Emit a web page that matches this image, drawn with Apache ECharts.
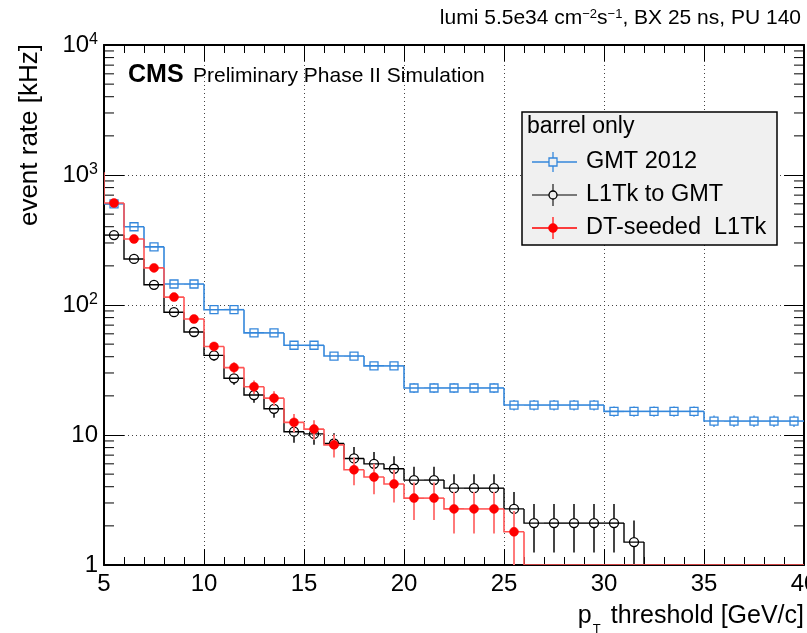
<!DOCTYPE html>
<html><head><meta charset="utf-8">
<script src="https://cdn.jsdelivr.net/npm/echarts@6/dist/echarts.min.js"></script>
<style>html,body{margin:0;padding:0;background:#fff;overflow:hidden;width:807px;height:633px}#c{width:807px;height:633px}</style>
</head><body><div id="c"></div>
<script>
// ---- data ----
const binEdges = [5,6,7,8,9,10,11,12,13,14,15,16,17,18,19,20,21,22,23,24,25,26,27,28,29,30,31,32,33,34,35,36,37,38,39,40];
const gmt2012    = [600,400,280,145,145,92,92,61,61,49,49,40.5,40.5,34,34,23,23,23,23,23,17,17,17,17,17,15.2,15.2,15.2,15.2,15.2,12.8,12.8,12.8,12.8,12.8];
const gmt2012Err = [9.5,7.7,6.5,4.7,4.7,3.7,3.7,3.0,3.0,2.7,2.7,2.5,2.5,2.3,2.3,2.0,2.0,2.0,2.0,2.0,1.6,1.6,1.6,1.6,1.6,1.4,1.4,1.4,1.4,1.4,1.3,1.3,1.3,1.3,1.3];
const l1tkGmt    = [345,226,143,88,62,41,27.3,20.3,15.9,10.6,10.2,8.6,6.6,6.0,5.5,4.5,4.5,3.9,3.9,3.9,2.7,2.1,2.1,2.1,2.1,2.1,1.5,0,0,0,0,0,0,0,0];
const l1tkGmtErr = [10.7,8.6,6.9,5.4,4.5,3.7,3.0,2.6,2.3,1.9,1.8,1.7,1.5,1.4,1.35,1.2,1.2,1.1,1.1,1.1,0.95,0.85,0.85,0.85,0.85,0.85,0.7,0,0,0,0,0,0,0,0];
const dtSeeded   = [609,322,193,115,78,48,33,23.5,19.2,12.5,11.1,8.4,5.4,4.75,4.2,3.27,3.27,2.7,2.7,2.7,1.8,0,0,0,0,0,0,0,0,0,0,0,0,0,0];
const dtSeededErr= [14,10.3,8.0,6.2,5.1,4.0,3.3,2.8,2.5,2.0,1.9,1.7,1.3,1.25,1.18,1.05,1.05,0.95,0.95,0.95,0.8,0,0,0,0,0,0,0,0,0,0,0,0,0,0];
const dtSeededUnderflow = 1050;   // content of the bin just below 5 GeV/c
const xTickValues = [5,10,15,20,25,30,35,40];
const yTickValues = [1,10,100,1000,10000];
const yMinorTicks = [2,3,4,5,6,7,8,9,20,30,40,50,60,70,80,90,200,300,400,500,600,700,800,900,2000,3000,4000,5000,6000,7000,8000,9000];
const legendTitle = 'barrel only';
const seriesNames = ['GMT 2012','L1Tk to GMT','DT-seeded  L1Tk'];

const FONT = '"Liberation Sans", Arial, Helvetica, sans-serif';
const BLUE = '#3487db', BLACK = '#000000', RED = '#ff0000';

function stepData(vals, under){
  return vals.map((v,i)=>[binEdges[i], binEdges[i+1], v, i>0 ? vals[i-1] : (under==null ? -1 : under)]);
}
function markData(vals, errs){
  return vals.map((v,i)=>[binEdges[i], binEdges[i+1], v, errs[i]]);
}
function stepRender(color, width){
  return function(params, api){
    const lo=api.value(0), hi=api.value(1), v=api.value(2), prev=api.value(3);
    const yv = v>1 ? v : 1;
    const pts=[];
    if (prev >= 0) pts.push(api.coord([lo, prev>1?prev:1]));
    pts.push(api.coord([lo,yv]), api.coord([hi,yv]));
    return {type:'polyline', shape:{points:pts}, style:{stroke:color, lineWidth:width, fill:null}};
  };
}
function markRender(kind, color, errColor, errWidth){
  return function(params, api){
    const lo=api.value(0), hi=api.value(1), v=api.value(2), e=api.value(3);
    if (!(v>0)) return null;
    const cs = params.coordSys;
    const c=(lo+hi)/2;
    const p=api.coord([c,v]);
    const t=api.coord([c,v+e]);
    const b=api.coord([c, Math.max(v-e, 0.5)]);
    const by = Math.min(b[1], cs.y+cs.height);
    const children=[];
    const r = kind==='square' ? 4 : 4.5;
    if (kind==='dot'){
      children.push({type:'line', shape:{x1:p[0],y1:t[1],x2:p[0],y2:by}, style:{stroke:errColor,lineWidth:errWidth}});
      children.push({type:'circle', shape:{cx:p[0],cy:p[1],r:r}, style:{fill:color, stroke:color, lineWidth:0.5}});
    } else {
      if (t[1] < p[1]-r) children.push({type:'line', shape:{x1:p[0],y1:t[1],x2:p[0],y2:p[1]-r}, style:{stroke:errColor,lineWidth:errWidth}});
      if (by > p[1]+r) children.push({type:'line', shape:{x1:p[0],y1:p[1]+r,x2:p[0],y2:by}, style:{stroke:errColor,lineWidth:errWidth}});
      if (kind==='square') children.push({type:'rect', shape:{x:p[0]-r,y:p[1]-r,width:2*r,height:2*r}, style:{fill:'rgba(255,255,255,0)', stroke:color, lineWidth:1.3}});
      else children.push({type:'circle', shape:{cx:p[0],cy:p[1],r:r}, style:{fill:'rgba(255,255,255,0)', stroke:color, lineWidth:1.3}});
    }
    return {type:'group', children:children};
  };
}
function minorRender(params, api){
  const cs=params.coordSys;
  const p=api.coord([5, api.value(1)]);
  return {type:'group', children:[
    {type:'line', shape:{x1:cs.x, y1:p[1], x2:cs.x+10, y2:p[1]}, style:{stroke:'#000', lineWidth:1}},
    {type:'line', shape:{x1:cs.x+cs.width, y1:p[1], x2:cs.x+cs.width-10, y2:p[1]}, style:{stroke:'#000', lineWidth:1}}
  ]};
}

// x-axis title layout (p_T subscript placed before the main text)
const mctx = document.createElement('canvas').getContext('2d');
mctx.font = '25px "Liberation Sans"';
const titleRight = 804;
const titleLeft = titleRight - mctx.measureText('threshold [GeV/c]').width;

const axisCommon = {
  axisLine:{show:true, onZero:false, lineStyle:{color:'#000', width:2}},
  splitLine:{show:false}
};

const chart = echarts.init(document.getElementById('c'), null, {renderer:'canvas', width:807, height:633});
chart.setOption({
  animation:false,
  backgroundColor:'#fff',
  grid:{left:104, right:3, top:45, bottom:68, containLabel:false, outerBoundsMode:'none'},
  xAxis:[
    Object.assign({}, axisCommon, {type:'value', min:xTickValues[0], max:xTickValues[xTickValues.length-1], interval:5, position:'bottom',
      axisTick:{show:true, inside:true, length:16, lineStyle:{color:'#000', width:1}},
      minorTick:{show:true, splitNumber:5, length:8, lineStyle:{color:'#000', width:1}},
      axisLabel:{show:true, margin:7, fontSize:24, color:'#000', fontFamily:FONT, hideOverlap:false},
      splitLine:{show:true, lineStyle:{type:[1,3], color:'#444', width:1}}}),
    Object.assign({}, axisCommon, {type:'value', min:xTickValues[0], max:xTickValues[xTickValues.length-1], interval:5, position:'top',
      axisTick:{show:true, inside:true, length:16, lineStyle:{color:'#000', width:1}},
      minorTick:{show:true, splitNumber:5, length:8, lineStyle:{color:'#000', width:1}},
      axisLabel:{show:false}})
  ],
  yAxis:[
    Object.assign({}, axisCommon, {type:'log', logBase:10, min:yTickValues[0], max:yTickValues[yTickValues.length-1], position:'left',
      axisTick:{show:true, inside:true, length:20, lineStyle:{color:'#000', width:1}},
      axisLabel:{show:true, margin:6, color:'#000', fontFamily:FONT,
        formatter:function(v){ if (v<=1) return '{b|1}'; if (v===10) return '{b|10}'; const e=Math.round(Math.log10(v)); return '{b|10}{s|'+e+'}'; },
        rich:{b:{fontSize:24, fontFamily:FONT, color:'#000', lineHeight:26}, s:{fontSize:16, fontFamily:FONT, color:'#000', verticalAlign:'top', lineHeight:14}}},
      splitLine:{show:true, lineStyle:{type:[1,3], color:'#444', width:1}}}),
    Object.assign({}, axisCommon, {type:'log', logBase:10, min:yTickValues[0], max:yTickValues[yTickValues.length-1], position:'right',
      axisTick:{show:true, inside:true, length:20, lineStyle:{color:'#000', width:1}},
      axisLabel:{show:false}})
  ],
  series:[
    {type:'custom', name:'minorY', xAxisIndex:0, yAxisIndex:0, renderItem:minorRender, data:yMinorTicks.map(v=>[5,v]), encode:{x:0,y:1}, z:1, silent:true},
    {type:'custom', name:seriesNames[0]+' hist', renderItem:stepRender(BLUE,1.6), data:stepData(gmt2012,null), encode:{x:[0,1],y:2}, clip:true, z:3, silent:true},
    {type:'custom', name:seriesNames[0], renderItem:markRender('square',BLUE,BLUE,1.3), data:markData(gmt2012,gmt2012Err), encode:{x:[0,1],y:2}, clip:true, z:4, silent:true},
    {type:'custom', name:seriesNames[1]+' hist', renderItem:stepRender(BLACK,1.4), data:stepData(l1tkGmt,null), encode:{x:[0,1],y:2}, clip:true, z:5, silent:true},
    {type:'custom', name:seriesNames[1], renderItem:markRender('open',BLACK,'#444',2), data:markData(l1tkGmt,l1tkGmtErr), encode:{x:[0,1],y:2}, clip:true, z:6, silent:true},
    {type:'custom', name:seriesNames[2]+' hist', renderItem:stepRender('#ff5555',1.6), data:stepData(dtSeeded,dtSeededUnderflow), encode:{x:[0,1],y:2}, clip:true, z:7, silent:true},
    {type:'custom', name:seriesNames[2], renderItem:markRender('dot',RED,'#ff7a7a',2), data:markData(dtSeeded,dtSeededErr), encode:{x:[0,1],y:2}, clip:true, z:8, silent:true}
  ],
  graphic:[
    // header text
    {type:'text', right:6, top:8, z:100, style:{text:'lumi 5.5e34 cm{s|−2}s{s|−1}, BX 25 ns, PU 140', font:'21px '+FONT, fill:'#000',
      rich:{s:{fontSize:13, fontFamily:FONT, verticalAlign:'top', lineHeight:12, fill:'#000'}}}},
    {type:'text', left:128, top:63, z:100, style:{text:'CMS', font:'bold 25px '+FONT, fill:'#000'}},
    {type:'text', left:193, top:66, z:100, style:{text:'Preliminary Phase II Simulation', font:'21px '+FONT, fill:'#000'}},
    // axis titles
    {type:'text', x:30, y:44, rotation:Math.PI/2, z:100, style:{text:'event rate [kHz]', font:'26px '+FONT, fill:'#000', align:'right', verticalAlign:'middle'}},
    {type:'text', x:titleRight, y:616, z:100, style:{text:'threshold [GeV/c]', font:'25px '+FONT, fill:'#000', align:'right', verticalAlign:'middle'}},
    {type:'text', x:titleLeft-33, y:616, z:100, style:{text:'p', font:'25px '+FONT, fill:'#000', align:'left', verticalAlign:'middle'}},
    {type:'text', x:titleLeft-18, y:629, z:100, style:{text:'T', font:'13px '+FONT, fill:'#000', align:'left', verticalAlign:'middle'}},
    // legend box
    {type:'rect', z:100, shape:{x:522, y:112, width:255, height:133}, style:{fill:'#f0f0f0', stroke:'#000', lineWidth:1.5}},
    {type:'text', x:527, y:127, z:101, style:{text:legendTitle, font:'23px '+FONT, fill:'#000', align:'left', verticalAlign:'middle'}},
    // entry 1
    {type:'line', z:101, shape:{x1:532,y1:162,x2:577,y2:162}, style:{stroke:BLUE, lineWidth:1.3}},
    {type:'line', z:101, shape:{x1:553,y1:152,x2:553,y2:172}, style:{stroke:BLUE, lineWidth:1.3}},
    {type:'rect', z:102, shape:{x:549,y:158,width:8,height:8}, style:{fill:'#f0f0f0', stroke:BLUE, lineWidth:1.3}},
    {type:'text', x:586, y:162, z:101, style:{text:seriesNames[0], font:'23.5px '+FONT, fill:'#000', align:'left', verticalAlign:'middle'}},
    // entry 2
    {type:'line', z:101, shape:{x1:532,y1:195,x2:577,y2:195}, style:{stroke:'#000', lineWidth:1.2}},
    {type:'line', z:101, shape:{x1:553,y1:184,x2:553,y2:206}, style:{stroke:'#444', lineWidth:1.5}},
    {type:'circle', z:102, shape:{cx:553,cy:195,r:4}, style:{fill:'#f0f0f0', stroke:'#000', lineWidth:1.3}},
    {type:'text', x:586, y:195, z:101, style:{text:seriesNames[1], font:'23.5px '+FONT, fill:'#000', align:'left', verticalAlign:'middle'}},
    // entry 3
    {type:'line', z:101, shape:{x1:532,y1:228,x2:577,y2:228}, style:{stroke:RED, lineWidth:1.3}},
    {type:'line', z:101, shape:{x1:553,y1:217,x2:553,y2:239}, style:{stroke:'#ff6060', lineWidth:2}},
    {type:'circle', z:102, shape:{cx:553,cy:228,r:4.5}, style:{fill:RED, stroke:RED, lineWidth:0.5}},
    {type:'text', x:586, y:228, z:101, style:{text:seriesNames[2], font:'23.5px '+FONT, fill:'#000', align:'left', verticalAlign:'middle'}}
  ]
});
</script></body></html>
